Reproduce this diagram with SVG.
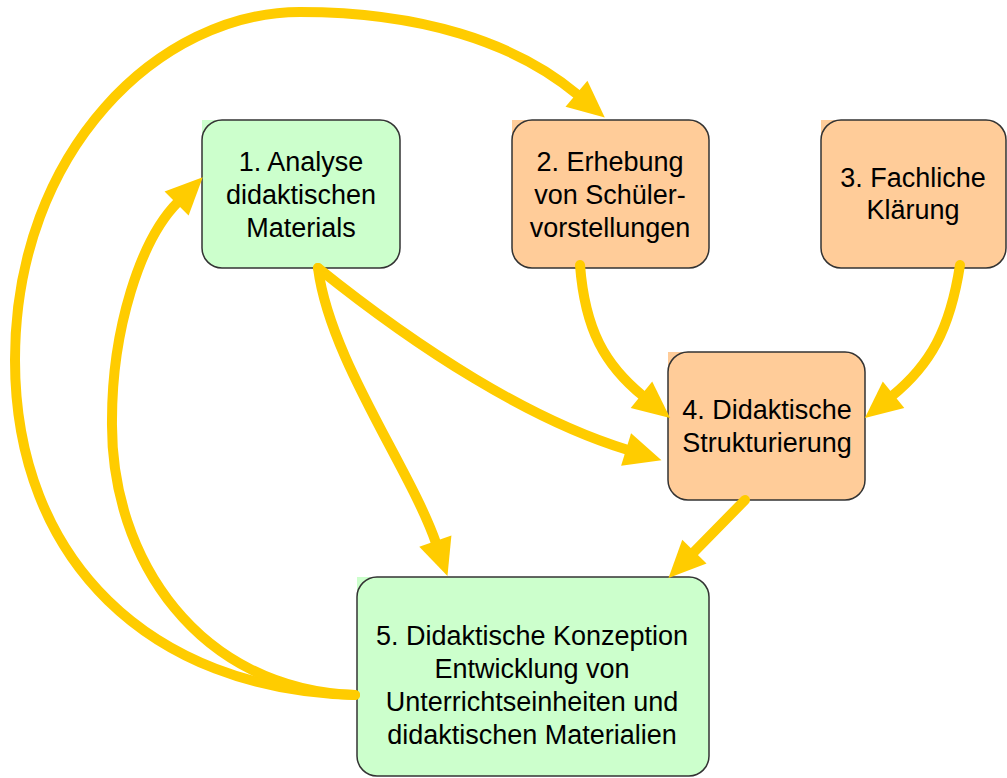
<svg xmlns="http://www.w3.org/2000/svg" width="1007" height="778" viewBox="0 0 1007 778">
  <style>
    .green { fill: #CCFFCC; }
    .orange { fill: #FFCC99; }
    .box { stroke: #333333; stroke-width: 1.5; }
    .label { font-family: "Liberation Sans", Arial, sans-serif; font-size: 27px; fill: #000000; text-anchor: middle; }
    .edge { fill: none; stroke: #FFCC00; stroke-width: 10; stroke-linecap: round; }
  </style>
  <defs>
    <marker id="head" markerUnits="userSpaceOnUse" markerWidth="36" markerHeight="36" refX="0" refY="17" orient="auto" overflow="visible">
      <path d="M-2,0 L35,17 L-2,34 Z" fill="#FFCC00"/>
    </marker>
  </defs>
  <rect width="1007" height="778" fill="#FFFFFF"/>

  <g id="node1">
    <rect class="green" x="202" y="120" width="20" height="20"/>
    <rect class="green box" x="202" y="120" width="198" height="148" rx="20" ry="20"/>
    <text class="label" x="301" y="171">1. Analyse</text>
    <text class="label" x="301" y="204">didaktischen</text>
    <text class="label" x="301" y="237">Materials</text>
  </g>

  <g id="node2">
    <rect class="orange" x="512" y="120" width="20" height="20"/>
    <rect class="orange box" x="512" y="120" width="197" height="148" rx="20" ry="20"/>
    <text class="label" x="610" y="171">2. Erhebung</text>
    <text class="label" x="610" y="204">von Schüler-</text>
    <text class="label" x="610" y="237">vorstellungen</text>
  </g>

  <g id="node3">
    <rect class="orange" x="821" y="120" width="20" height="20"/>
    <rect class="orange box" x="821" y="120" width="185" height="148" rx="20" ry="20"/>
    <text class="label" x="913" y="187">3. Fachliche</text>
    <text class="label" x="913" y="219">Klärung</text>
  </g>

  <g id="node4">
    <rect class="orange" x="668" y="352" width="20" height="20"/>
    <rect class="orange box" x="668" y="352" width="197" height="148" rx="20" ry="20"/>
    <text class="label" x="767" y="419">4. Didaktische</text>
    <text class="label" x="767" y="452">Strukturierung</text>
  </g>

  <g id="node5">
    <rect class="green" x="357" y="577" width="20" height="20"/>
    <rect class="green box" x="357" y="577" width="352" height="199" rx="20" ry="20"/>
    <text class="label" x="532" y="645">5. Didaktische Konzeption</text>
    <text class="label" x="532" y="678">Entwicklung von</text>
    <text class="label" x="532" y="711">Unterrichtseinheiten und</text>
    <text class="label" x="532" y="744">didaktischen Materialien</text>
  </g>

  <g id="connectors">
    <!-- 5 -> 2, outer loop -->
    <path class="edge" marker-end="url(#head)" d="M355,695 C150,690 15,560 15,360 C15,150 160,12 300,12 C420,12 515,42 578,95"/>
    <!-- 5 -> 1, inner loop -->
    <path class="edge" marker-end="url(#head)" d="M355,695 C200,690 110,560 112,420 C112,330 140,240 178,202"/>
    <!-- 1 -> 4 -->
    <path class="edge" marker-end="url(#head)" d="M318,268 C420,350 530,420 628,450"/>
    <!-- 1 -> 5 -->
    <path class="edge" marker-end="url(#head)" d="M318,268 C330,360 410,468 436,543"/>
    <!-- 2 -> 4 -->
    <path class="edge" marker-end="url(#head)" d="M580,265 C585,330 605,365 643,396"/>
    <!-- 3 -> 4 -->
    <path class="edge" marker-end="url(#head)" d="M960,265 C950,330 930,365 892,396"/>
    <!-- 4 -> 5 -->
    <path class="edge" marker-end="url(#head)" d="M745,500 L693,553"/>
  </g>
</svg>
